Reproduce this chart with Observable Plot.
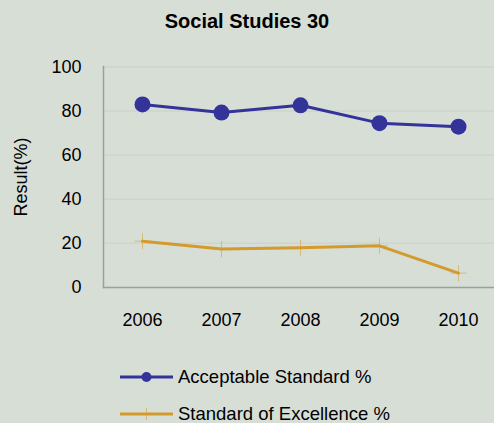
<!DOCTYPE html>
<html>
<head>
<meta charset="utf-8">
<script src="https://cdn.jsdelivr.net/npm/d3@7"></script>
<script src="https://cdn.jsdelivr.net/npm/@observablehq/plot@0.6"></script>
<style>
  html, body { margin: 0; padding: 0; background: #d7ded6; }
  #wrap { position: relative; width: 494px; height: 423px; overflow: hidden; background: #d7ded6; font-family: "Liberation Sans", Arial, sans-serif; color: #000; }
  #title { position: absolute; left: 0; width: 494px; top: 9px; height: 24px; line-height: 24px; text-align: center; font-weight: bold; font-size: 20px; }
  #ylabel { position: absolute; left: 21px; top: 177px; transform: translate(-50%, -50%) rotate(-90deg); font-size: 18px; white-space: nowrap; }
  #chart { position: absolute; left: 0; top: 0; }
  .leg { position: absolute; left: 120px; height: 24px; font-size: 18.5px; display: flex; align-items: center; white-space: nowrap; }
  .leg svg { margin-right: 5px; }
</style>
</head>
<body>
<div id="wrap">
  <div id="chart"></div>
  <div id="title">Social Studies 30</div>
  <div id="ylabel">Result(%)</div>
  <div class="leg" id="leg1" style="top:365px"></div>
  <div class="leg" id="leg2" style="top:402px"></div>
</div>
<script>
const years = ["2006", "2007", "2008", "2009", "2010"];
const acceptable = [83.0, 79.3, 82.6, 74.5, 72.9];
const excellence = [20.9, 17.3, 17.9, 18.8, 6.4];
const yTicks = [0, 20, 40, 60, 80, 100];
const seriesNames = ["Acceptable Standard %", "Standard of Excellence %"];

const blue = "#333399";
const orange = "#d49a2c";

const accData = years.map((y, i) => ({year: y, value: acceptable[i]}));
const excData = years.map((y, i) => ({year: y, value: excellence[i]}));

const thinPlus = {
  draw(ctx, size) {
    const r = Math.sqrt(size / Math.PI);
    ctx.moveTo(-r, 0); ctx.lineTo(r, 0);
    ctx.moveTo(0, -r); ctx.lineTo(0, r);
  }
};

const chart = Plot.plot({
  width: 494,
  height: 423,
  marginLeft: 103,
  marginRight: 0,
  marginTop: 66,
  marginBottom: 136,
  style: {background: "transparent", fontFamily: "'Liberation Sans', Arial, sans-serif", fontSize: "18px", color: "#000"},
  x: {type: "point", domain: years, range: [142.3, 458.3], padding: 0},
  y: {domain: [0, 100], range: [286.7, 66.5]},
  marks: [
    Plot.ruleY(yTicks.filter(d => d > 0), {stroke: "#c9d0c8", strokeWidth: 1}),
    Plot.axisY({ticks: yTicks, tickSize: 0, tickPadding: 22, label: null, fontSize: 18}),
    Plot.axisX({tickSize: 0, tickPadding: 26, label: null, fontSize: 18}),
    Plot.frame({anchor: "left", stroke: "#9aa09a", strokeWidth: 1.5}),
    Plot.frame({anchor: "bottom", stroke: "#9aa09a", strokeWidth: 1.5}),
    Plot.line(excData, {x: "year", y: "value", stroke: orange, strokeWidth: 3}),
    Plot.dot(excData, {x: "year", y: "value", symbol: thinPlus, r: 8, stroke: orange, strokeOpacity: 0.55, strokeWidth: 1, fill: "none"}),
    Plot.line(accData, {x: "year", y: "value", stroke: blue, strokeWidth: 3}),
    Plot.dot(accData, {x: "year", y: "value", r: 8, fill: blue, stroke: "none"})
  ]
});
document.getElementById("chart").appendChild(chart);

function swatch(color, kind) {
  const ns = "http://www.w3.org/2000/svg";
  const s = document.createElementNS(ns, "svg");
  s.setAttribute("width", 53); s.setAttribute("height", 16);
  const l = document.createElementNS(ns, "line");
  l.setAttribute("x1", 0); l.setAttribute("x2", 53); l.setAttribute("y1", 8); l.setAttribute("y2", 8);
  l.setAttribute("stroke", color); l.setAttribute("stroke-width", 3);
  s.appendChild(l);
  if (kind === "circle") {
    const c = document.createElementNS(ns, "circle");
    c.setAttribute("cx", 26.5); c.setAttribute("cy", 8); c.setAttribute("r", 5);
    c.setAttribute("fill", color);
    s.appendChild(c);
  } else {
    const p = document.createElementNS(ns, "path");
    p.setAttribute("d", "M26.5,2V14");
    p.setAttribute("stroke", color); p.setAttribute("stroke-opacity", 0.55); p.setAttribute("stroke-width", 1);
    s.appendChild(p);
  }
  return s;
}
const l1 = document.getElementById("leg1");
l1.appendChild(swatch(blue, "circle"));
l1.appendChild(document.createTextNode(seriesNames[0]));
const l2 = document.getElementById("leg2");
l2.appendChild(swatch(orange, "plus"));
l2.appendChild(document.createTextNode(seriesNames[1]));
</script>
</body>
</html>
